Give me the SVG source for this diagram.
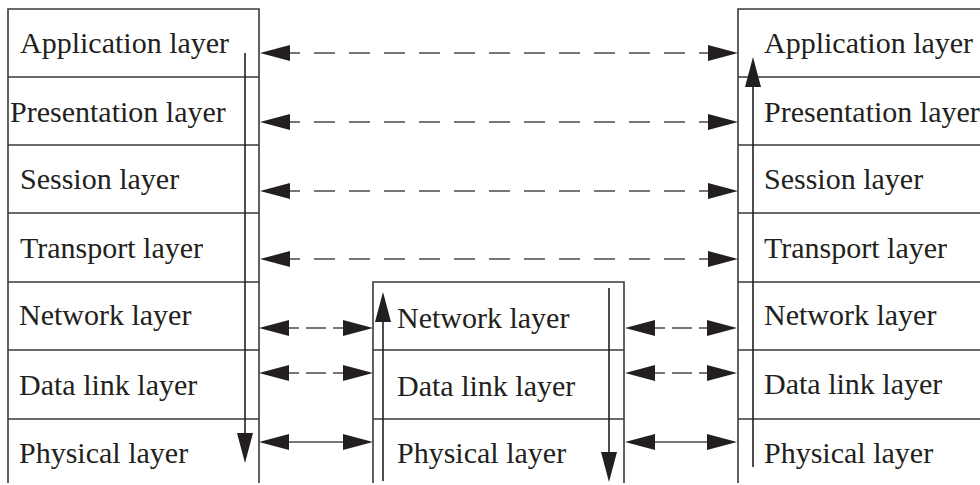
<svg xmlns="http://www.w3.org/2000/svg" width="980" height="485" viewBox="0 0 980 485">
<style>
.ln{stroke:#3a3a3a;stroke-width:1.6;fill:none}
.t{font-family:"Liberation Serif","Times New Roman",serif;font-size:30px;fill:#231f20}
.c{stroke:#4a4a4a;stroke-width:1.6;fill:none;marker-start:url(#ah);marker-end:url(#ah)}
.dl{stroke-dasharray:21 14;stroke-dashoffset:11}
.ds{stroke-dasharray:20 7;stroke-dashoffset:10}
.v{stroke:#231f20;stroke-width:1.6;fill:none;marker-end:url(#ah)}
</style>
<defs>
<marker id="ah" markerUnits="userSpaceOnUse" markerWidth="32" markerHeight="18" viewBox="0 -9 32 18" refX="0" refY="0" orient="auto-start-reverse">
<path d="M0,-8 L30,0 L0,8 Z" fill="#231f20"/>
</marker>
</defs>
<rect width="980" height="485" fill="#fff"/>
<g id="left-stack">
<path class="ln" d="M8,483 V9 H259 V483 M8,77 H259 M8,145 H259 M8,213 H259 M8,282 H259 M8,350 H259 M8,419 H259"/>
<text class="t" x="20" y="53">Application layer</text>
<text class="t" x="10" y="122">Presentation layer</text>
<text class="t" x="20" y="189">Session layer</text>
<text class="t" x="20" y="258">Transport layer</text>
<text class="t" x="19" y="325">Network layer</text>
<text class="t" x="19" y="395">Data link layer</text>
<text class="t" x="19" y="463">Physical layer</text>
</g>
<g id="middle-stack">
<path class="ln" d="M373,483 V282 H624 V483 M373,350 H624 M373,419 H624"/>
<text class="t" x="397" y="328">Network layer</text>
<text class="t" x="397" y="396">Data link layer</text>
<text class="t" x="397" y="463">Physical layer</text>
</g>
<g id="right-stack">
<path class="ln" d="M738,483 V9 H980 M738,77 H980 M738,145 H980 M738,213 H980 M738,282 H980 M738,350 H980 M738,419 H980"/>
<text class="t" x="764" y="53">Application layer</text>
<text class="t" x="764" y="122">Presentation layer</text>
<text class="t" x="764" y="189">Session layer</text>
<text class="t" x="764" y="258">Transport layer</text>
<text class="t" x="764" y="325">Network layer</text>
<text class="t" x="764" y="394">Data link layer</text>
<text class="t" x="764" y="463">Physical layer</text>
</g>
<g id="connectors">
<line class="c dl" x1="290" y1="53" x2="708" y2="53"/>
<line class="c dl" x1="290" y1="122" x2="708" y2="122"/>
<line class="c dl" x1="290" y1="191" x2="708" y2="191"/>
<line class="c dl" x1="290" y1="259" x2="708" y2="259"/>
<line class="c ds" x1="289" y1="328" x2="343" y2="328"/>
<line class="c ds" x1="289" y1="373" x2="343" y2="373"/>
<line class="c" x1="289" y1="442" x2="343" y2="442"/>
<line class="c ds" x1="655" y1="328" x2="707" y2="328"/>
<line class="c ds" x1="655" y1="373" x2="707" y2="373"/>
<line class="c" x1="655" y1="442" x2="707" y2="442"/>
<line class="v" x1="245" y1="53" x2="245" y2="433"/>
<line class="v" x1="383" y1="481" x2="383" y2="322"/>
<line class="v" x1="609" y1="288" x2="609" y2="452"/>
<line class="v" x1="753" y1="467" x2="753" y2="87"/>
</g>
</svg>
